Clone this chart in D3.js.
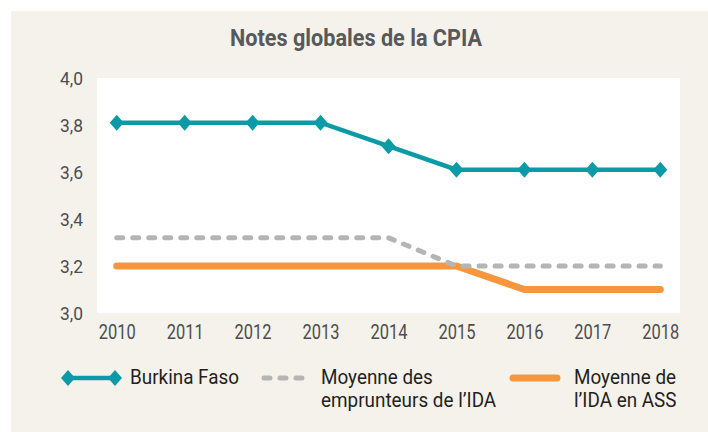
<!DOCTYPE html>
<html>
<head>
<meta charset="utf-8">
<script src="https://cdn.jsdelivr.net/npm/d3@7"></script>
<style>
  body { margin: 0; background: #fff; }
  text { font-family: "Roboto", "Liberation Sans", sans-serif; }
</style>
</head>
<body>
<script>
// data
var years = ["2010", "2011", "2012", "2013", "2014", "2015", "2016", "2017", "2018"];
var burkina = [3.81, 3.81, 3.81, 3.81, 3.71, 3.61, 3.61, 3.61, 3.61];
var idaBorrowers = [3.32, 3.32, 3.32, 3.32, 3.32, 3.2, 3.2, 3.2, 3.2];
var idaSSA = [3.2, 3.2, 3.2, 3.2, 3.2, 3.2, 3.1, 3.1, 3.1];
var yTicks = [3.0, 3.2, 3.4, 3.6, 3.8, 4.0];

var W = 708, H = 432;
var margin = { top: 78, right: 28, bottom: 119, left: 97 },
    width = W - margin.left - margin.right,
    height = H - margin.top - margin.bottom;

var teal = "#0c9aa6", orange = "#f7963d", grey = "#b5b5b6";

// the source font is a condensed one: squeeze glyphs so that a
// reference string gets the width measured on the picture
function squeeze(sel, refNode, targetW) {
    var k = targetW / refNode.getComputedTextLength();
    sel.each(function () {
        var w = this.getComputedTextLength();
        d3.select(this)
            .attr("textLength", w * k)
            .attr("lengthAdjust", "spacingAndGlyphs");
    });
}

var svg = d3.select("body").append("svg")
    .attr("width", W)
    .attr("height", H);

// beige panel
svg.append("rect")
    .attr("x", 11).attr("y", 11)
    .attr("width", W - 11).attr("height", H - 11)
    .attr("fill", "#f5f2eb");

var title = svg.append("text")
    .attr("x", 356).attr("y", 46)
    .attr("text-anchor", "middle")
    .style("font-size", "23px")
    .style("font-weight", "bold")
    .style("fill", "#58595b")
    .text("Notes globales de la CPIA");
squeeze(title, title.node(), 252);

var g = svg.append("g")
    .attr("transform", "translate(" + margin.left + "," + margin.top + ")");

g.append("rect")
    .attr("width", width).attr("height", height)
    .attr("fill", "#fff");

var x = d3.scalePoint()
    .domain(years)
    .range([0, width])
    .padding(0.29);

var y = d3.scaleLinear()
    .domain([3, 4])
    .range([height, 0]);

var xAxis = d3.axisBottom(x).tickSize(0).tickPadding(12);
var yAxis = d3.axisLeft(y).tickValues(yTicks).tickSize(0).tickPadding(14)
    .tickFormat(d => d3.format(".1f")(d).replace(".", ","));

var xTxt = g.append("g")
    .attr("transform", "translate(0," + height + ")")
    .call(xAxis)
    .call(a => a.select(".domain").remove())
    .selectAll("text")
    .style("font-size", "19.5px")
    .style("fill", "#4d4d4f");
squeeze(xTxt, xTxt.node(), 37);

var yTxt = g.append("g")
    .call(yAxis)
    .call(a => a.select(".domain").remove())
    .selectAll("text")
    .style("font-size", "19px")
    .style("fill", "#4d4d4f");
squeeze(yTxt, yTxt.node(), 23);

var line = d3.line()
    .x((d, i) => x(years[i]))
    .y(d => y(d));

g.append("path")
    .datum(idaSSA)
    .attr("d", line)
    .attr("fill", "none")
    .attr("stroke", orange)
    .attr("stroke-width", 7)
    .attr("stroke-linecap", "round")
    .attr("stroke-linejoin", "round");

g.append("path")
    .datum(idaBorrowers)
    .attr("d", line)
    .attr("fill", "none")
    .attr("stroke", grey)
    .attr("stroke-width", 5)
    .attr("stroke-dasharray", "6,10")
    .attr("stroke-linecap", "round");

g.append("path")
    .datum(burkina)
    .attr("d", line)
    .attr("fill", "none")
    .attr("stroke", teal)
    .attr("stroke-width", 4.5);

var diamond = "M0,-8L7,0L0,8L-7,0Z";

g.selectAll(".diamond")
    .data(burkina)
    .enter()
    .append("path")
    .attr("class", "diamond")
    .attr("d", diamond)
    .attr("transform", (d, i) => "translate(" + x(years[i]) + "," + y(d) + ")")
    .attr("fill", teal);

// legend
var leg = svg.append("g").attr("transform", "translate(0,378)");

leg.append("line")
    .attr("x1", 68).attr("x2", 115)
    .attr("stroke", teal).attr("stroke-width", 4.5);
leg.selectAll(".ld")
    .data([68, 115])
    .enter()
    .append("path")
    .attr("d", diamond)
    .attr("transform", d => "translate(" + d + ",0)")
    .attr("fill", teal);

leg.append("line")
    .attr("x1", 264).attr("x2", 303)
    .attr("stroke", grey).attr("stroke-width", 5)
    .attr("stroke-dasharray", "6,10")
    .attr("stroke-linecap", "round");

leg.append("line")
    .attr("x1", 513).attr("x2", 557)
    .attr("stroke", orange).attr("stroke-width", 7)
    .attr("stroke-linecap", "round");

var legText = [
    { x: 130, lines: ["Burkina Faso"] },
    { x: 321, lines: ["Moyenne des", "emprunteurs de l\u2019IDA"] },
    { x: 574, lines: ["Moyenne de", "l\u2019IDA en ASS"] }
];

legText.forEach(function (t) {
    var txt = leg.append("text")
        .attr("x", t.x).attr("y", 6)
        .style("font-size", "21px")
        .style("fill", "#231f20");
    t.lines.forEach(function (l, i) {
        txt.append("tspan")
            .attr("x", t.x)
            .attr("dy", i === 0 ? 0 : 23)
            .text(l);
    });
});
var legSpans = leg.selectAll("tspan");
squeeze(legSpans, legSpans.node(), 109);
</script>
</body>
</html>
